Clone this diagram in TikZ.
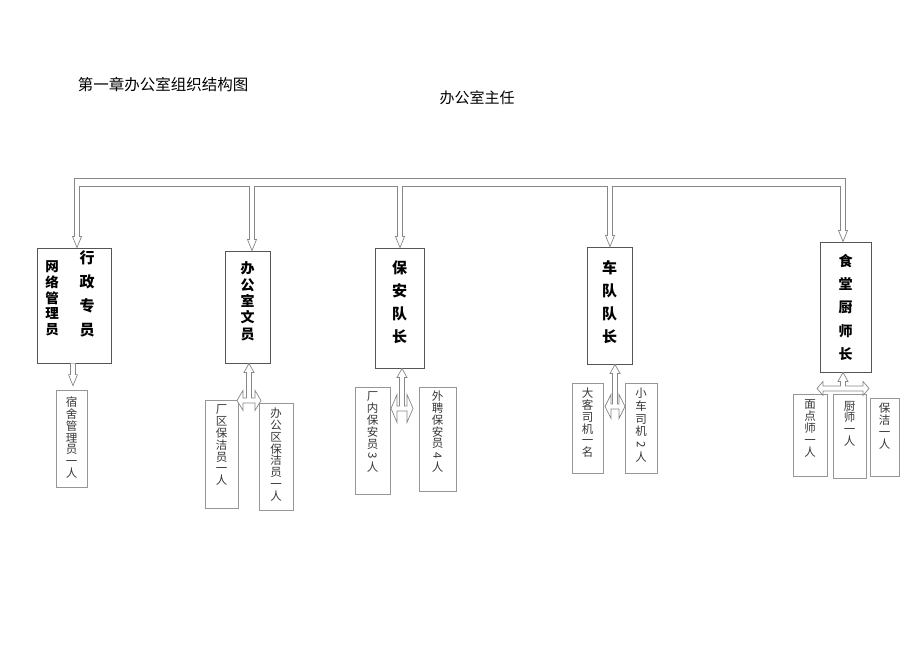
\documentclass[tikz,border=0pt]{standalone}
\usepackage{fontspec}
\setmainfont{Noto Sans CJK SC}
\usepackage{tikz}
\usetikzlibrary{calc,positioning}
\definecolor{pipe}{RGB}{135,135,135}
\definecolor{frame}{RGB}{85,85,85}
\definecolor{thin}{RGB}{150,150,150}
\definecolor{ink}{RGB}{55,55,55}
% hollow down arrow: shaft from #1 (its y) to the tip #2
\newcommand{\droparrow}[2]{%
  \draw[hollow] let \p1=#1, \p2=#2 in
    (\x2-2.5pt,\y1) -- (\x2-2.5pt,\y2+11pt) -- (\x2-4.5pt,\y2+11pt) -- (\x2,\y2)
    -- (\x2+4.5pt,\y2+11pt) -- (\x2+2.5pt,\y2+11pt) -- (\x2+2.5pt,\y1);}
% hollow left-right-up arrow: apex #1, depth #2, half span #3, side head half height #4
\newcommand{\forkarrow}[4]{%
  \draw[hollow] let \p0=#1 in
    (\x0,\y0) -- (\x0+5pt,\y0-9pt) -- (\x0+2.5pt,\y0-9pt)
    -- (\x0+2.5pt,\y0-#2pt+#4pt+2.5pt) -- (\x0+#3pt-6pt,\y0-#2pt+#4pt+2.5pt)
    -- (\x0+#3pt-6pt,\y0-#2pt+#4pt+#4pt) -- (\x0+#3pt,\y0-#2pt+#4pt)
    -- (\x0+#3pt-6pt,\y0-#2pt) -- (\x0+#3pt-6pt,\y0-#2pt+#4pt-2.5pt)
    -- (\x0-#3pt+6pt,\y0-#2pt+#4pt-2.5pt) -- (\x0-#3pt+6pt,\y0-#2pt)
    -- (\x0-#3pt,\y0-#2pt+#4pt) -- (\x0-#3pt+6pt,\y0-#2pt+#4pt+#4pt)
    -- (\x0-#3pt+6pt,\y0-#2pt+#4pt+2.5pt) -- (\x0-2.5pt,\y0-#2pt+#4pt+2.5pt)
    -- (\x0-2.5pt,\y0-9pt) -- (\x0-5pt,\y0-9pt) -- cycle;}
% vertical column of characters, box height #1, top gap #2
\newcommand{\vcol}[3]{\parbox[c][#1][t]{2em}{\centering\vspace*{#2}#3}}
\newcommand{\sidedigit}[1]{\rotatebox[origin=c]{-90}{#1}}

\begin{document}
\begin{tikzpicture}[x=1pt,y=-1pt,
    hollow/.style={draw=pipe,line width=0.7pt,fill=white},
    chief/.style={draw=frame,line width=0.9pt,inner sep=0pt,
      font=\bfseries\fontsize{15}{23}\selectfont},
    staff/.style={draw=thin,line width=0.8pt,inner sep=0pt,text=ink,
      font=\fontsize{11.5}{11.8}\selectfont}]
  \useasboundingbox (0,0) rectangle (920,651);

  \node[font=\fontsize{15.5}{18}\selectfont] (title) at (163,85) {第一章办公室组织结构图};
  \node[font=\fontsize{15}{18}\selectfont] (head) at (477,98) {办公室主任};

  % first row
  \node[chief,minimum width=74pt,minimum height=115pt] (b1) at (74,305.5) {};
  \node[font=\bfseries\fontsize{13.5}{15.8}\selectfont,align=center] (net) at (52,298.5) {网\\络\\管\\理\\员};
  \node[font=\bfseries\fontsize{15}{24}\selectfont,align=center] (admin) at (87,294) {行\\政\\专\\员};
  \node[chief,minimum width=45pt,font=\bfseries\fontsize{14}{16.3}\selectfont] (b2) at (247.5,307)
    {\vcol{112pt}{11pt}{办\\公\\室\\文\\员}};
  \node[chief,minimum width=49pt] (b3) at (399.5,308) {\vcol{120pt}{13pt}{保\\安\\队\\长}};
  \node[chief,minimum width=45pt] (b4) at (609.5,305.5) {\vcol{117pt}{13pt}{车\\队\\队\\长}};
  \node[chief,minimum width=51pt,font=\bfseries\fontsize{14}{23.3}\selectfont] (b5) at (845.5,307)
    {\vcol{130pt}{12pt}{食\\堂\\厨\\师\\长}};

  % second row
  \node[staff,minimum width=31pt] (s1) at (71.5,438.5) {\vcol{97pt}{7pt}{宿\\舍\\管\\理\\员\\一\\人}};
  \node[staff,minimum width=33pt] (s2) at (221.5,454) {\vcol{108pt}{5pt}{厂\\区\\保\\洁\\员\\一\\人}};
  \node[staff,minimum width=34pt] (s3) at (276,456.5) {\vcol{107pt}{5pt}{办\\公\\区\\保\\洁\\员\\一\\人}};
  \node[staff,minimum width=35pt] (s4) at (372.5,440.5) {\vcol{107pt}{5pt}{厂\\内\\保\\安\\员\\\sidedigit{3}\\人}};
  \node[staff,minimum width=37pt] (s5) at (437.5,439) {\vcol{104pt}{4pt}{外\\聘\\保\\安\\员\\\sidedigit{4}\\人}};
  \node[staff,minimum width=31pt] (s6) at (587.5,428) {\vcol{90pt}{5pt}{大\\客\\司\\机\\一\\名}};
  \node[staff,minimum width=32pt,font=\fontsize{11.5}{12.8}\selectfont] (s7) at (641,428)
    {\vcol{90pt}{5pt}{小\\车\\司\\机\\\sidedigit{2}\\人}};
  \node[staff,minimum width=34pt] (s8) at (810,435) {\vcol{82pt}{6pt}{面\\点\\师\\一\\人}};
  \node[staff,minimum width=33pt] (s9) at (849.5,436) {\vcol{84pt}{7pt}{厨\\师\\一\\人}};
  \node[staff,minimum width=29pt] (s10) at (884.5,437) {\vcol{78pt}{5pt}{保\\洁\\一\\人}};

  % bus under the head
  \coordinate (bus) at (0,186);
  \draw[pipe,line width=0.7pt] (74.5,186) -- (74.5,178) -- (845.5,178) -- (845.5,186)
    (79.5,186) -- (840.5,186);
  \droparrow{(bus)}{($(b1.north)+(3,0)$)}
  \droparrow{(bus)}{($(b2.north)+(4.5,0)$)}
  \droparrow{(bus)}{($(b3.north)+(0.5,0)$)}
  \droparrow{(bus)}{($(b4.north)+(0.5,0)$)}
  \droparrow{(bus)}{($(b5.north)+(-2.5,0)$)}

  \droparrow{(b1.south)}{($(s1.north)+(1.5,-4)$)}
  \forkarrow{($(b2.south)+(1.5,0)$)}{47}{12}{10}
  \forkarrow{($(b3.south)+(2.5,0)$)}{54}{11}{14}
  \forkarrow{($(b4.south)+(5.5,0)$)}{54}{10}{12}
  \forkarrow{($(b5.south)+(-2.5,0)$)}{23}{26}{7}
\end{tikzpicture}
\end{document}
